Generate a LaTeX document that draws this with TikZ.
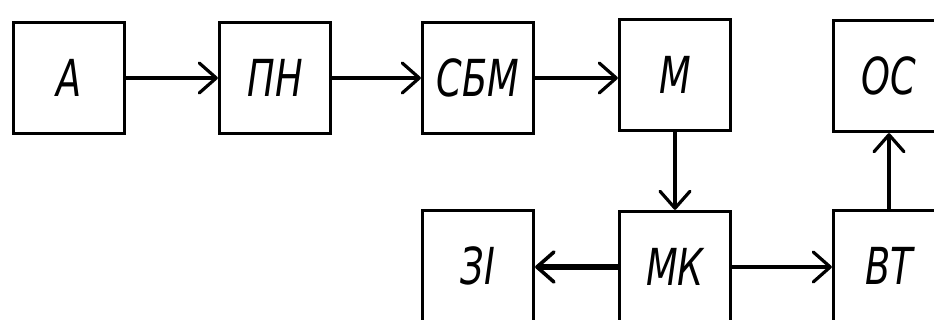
\documentclass[tikz,border=0pt]{standalone}
\usepackage{fontspec}
\setmainfont{DejaVu Sans Condensed}[FakeStretch=0.8]
\usetikzlibrary{arrows.meta}
\begin{document}
\begin{tikzpicture}[x=1pt,y=-1pt,
  blk/.style={draw, line width=3.3pt, minimum width=111pt, minimum height=111pt,
    inner sep=0pt, font=\fontsize{51}{51}\selectfont\itshape},
  conn/.style={line width=3.2pt, line cap=round,
    -{Straight Barb[length=17pt,width=30pt,line cap=round,round]}},
  thick conn/.style={conn, line width=6pt,
    -{Straight Barb[length=17pt,width=30pt,line width=3.6pt,line cap=round,round]}},
]
\clip (0,0) rectangle (934,320);
\useasboundingbox (0,0) rectangle (934,320);
\node[blk] (a)   at (69,78)  {А};
\node[blk] (pn)  at (275,78) {ПН};
\node[blk] (sbm) at (478,78) {СБМ};
\node[blk] (m)   at (675,75) {М};
\node[blk] (os)  at (889,76) {ОС};
\node[blk] (zi)  at (478,266) {ЗІ};
\node[blk] (mk)  at (675,267) {МК};
\node[blk] (vt)  at (889,266) {ВТ};
\draw[conn] (a.east) -- (pn.west);
\draw[conn] (pn.east) -- (sbm.west);
\draw[conn] (sbm.east) -- (m.west |- sbm.east);
\draw[conn] (m.south) -- (mk.north);
\draw[thick conn] (mk.west) -- (zi.east |- mk.west);
\draw[conn] (mk.east) -- (vt.west |- mk.east);
\draw[conn] (vt.north) -- (os.south);
\end{tikzpicture}
\end{document}
